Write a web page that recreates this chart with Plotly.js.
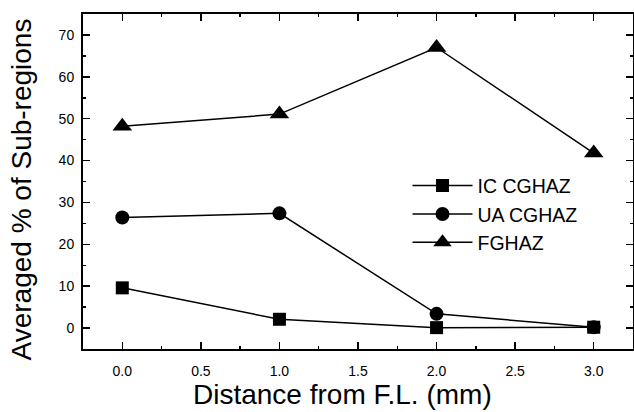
<!DOCTYPE html>
<html>
<head>
<meta charset="utf-8">
<script src="https://cdn.plot.ly/plotly-3.0.1.min.js"></script>
<style>html,body{margin:0;padding:0;background:#fff;}#chart{width:634px;height:412px;}</style>
</head>
<body>
<div id="chart"></div>
<script>
const distance = [0, 1, 2, 3];
const icCGHAZ = [9.6, 2.1, 0.1, 0.2];
const uaCGHAZ = [26.4, 27.4, 3.4, 0.2];
const fgHAZ = [48.2, 51.1, 67.0, 41.8];
const seriesNames = ["IC CGHAZ", "UA CGHAZ", "FGHAZ"];
const xTitle = "Distance from F.L. (mm)";
const yTitle = "Averaged % of Sub-regions";

const common = {mode: "lines+markers", type: "scatter", line: {color: "#000", width: 1.5}};
const traces = [
  Object.assign({}, common, {x: distance, y: icCGHAZ, name: seriesNames[0], marker: {symbol: "square", size: 13, color: "#000"}}),
  Object.assign({}, common, {x: distance, y: uaCGHAZ, name: seriesNames[1], marker: {symbol: "circle", size: 14, color: "#000"}}),
  Object.assign({}, common, {x: distance, y: fgHAZ, name: seriesNames[2], marker: {symbol: "triangle-up", size: 17, color: "#000"}})
];

const font = {family: "Liberation Sans, Arial, sans-serif", color: "#000"};
const layout = {
  width: 634, height: 412,
  margin: {l: 83, r: 1, t: 14, b: 63},
  paper_bgcolor: "#fff", plot_bgcolor: "#fff",
  font: Object.assign({size: 14}, font),
  showlegend: true,
  legend: {x: 0.59, y: 0.545, xanchor: "left", yanchor: "top", bgcolor: "rgba(0,0,0,0)",
           font: Object.assign({size: 19.5}, font), itemwidth: 60, tracegroupgap: 0},
  xaxis: {
    range: [-0.25, 3.25], tickvals: [0, 0.5, 1, 1.5, 2, 2.5, 3],
    ticktext: ["0.0", "0.5", "1.0", "1.5", "2.0", "2.5", "3.0"],
    ticks: "inside", ticklen: 7, tickwidth: 1.5, tickcolor: "#000",
    minor: {dtick: 0.25, tick0: 0, ticks: "inside", ticklen: 3, tickwidth: 1.5, tickcolor: "#000"},
    showline: true, linecolor: "#000", linewidth: 2, mirror: "ticks",
    showgrid: false, zeroline: false, ticklabelstandoff: 8,
    tickfont: Object.assign({size: 14}, font)
  },
  yaxis: {
    range: [-5, 75], tickvals: [0, 10, 20, 30, 40, 50, 60, 70],
    ticks: "inside", ticklen: 7, tickwidth: 1.5, tickcolor: "#000",
    minor: {dtick: 5, tick0: 0, ticks: "inside", ticklen: 3, tickwidth: 1.5, tickcolor: "#000"},
    showline: true, linecolor: "#000", linewidth: 2, mirror: "ticks",
    showgrid: false, zeroline: false, ticklabelstandoff: 4,
    tickfont: Object.assign({size: 14}, font)
  },
  annotations: [
    {text: xTitle, xref: "paper", yref: "paper", x: 0.472, y: -0.135, xanchor: "center", yanchor: "middle",
     showarrow: false, font: Object.assign({size: 28}, font)},
    {text: yTitle, xref: "paper", yref: "paper", x: -0.111, y: 0.476, xanchor: "center", yanchor: "middle",
     textangle: -90, showarrow: false, font: Object.assign({size: 28}, font)}
  ]
};
Plotly.newPlot("chart", traces, layout, {displayModeBar: false, staticPlot: true});
</script>
</body>
</html>
